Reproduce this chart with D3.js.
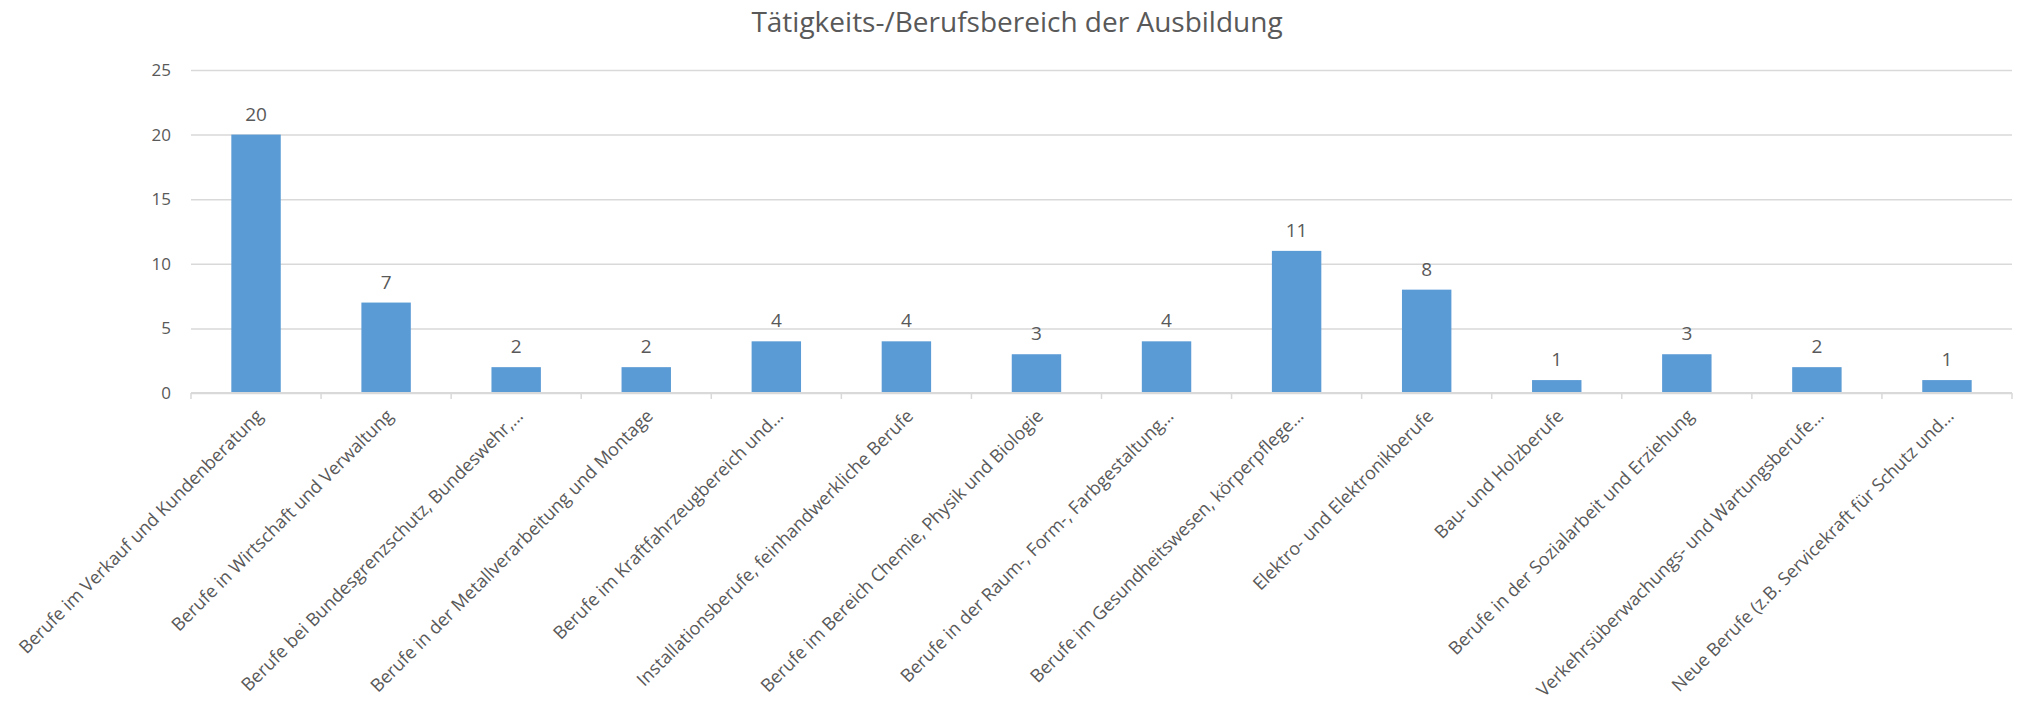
<!DOCTYPE html>
<html>
<head>
<meta charset="utf-8">
<script src="https://cdn.jsdelivr.net/npm/d3@7"></script>
<style>
	body { margin: 0; background: #fff; }
	text { font-family: 'Open Sans', Lato, sans-serif; fill: #595959; }
</style>
</head>
<body>
<div id="chart"></div>
<script>
const title = 'Tätigkeits-/Berufsbereich der Ausbildung'

const categories = [
	'Berufe im Verkauf und Kundenberatung',
	'Berufe in Wirtschaft und Verwaltung',
	'Berufe bei Bundesgrenzschutz, Bundeswehr,…',
	'Berufe in der Metallverarbeitung und Montage',
	'Berufe im Kraftfahrzeugbereich und…',
	'Installationsberufe, feinhandwerkliche Berufe',
	'Berufe im Bereich Chemie, Physik und Biologie',
	'Berufe in der Raum-, Form-, Farbgestaltung…',
	'Berufe im Gesundheitswesen, körperpflege…',
	'Elektro- und Elektronikberufe',
	'Bau- und Holzberufe',
	'Berufe in der Sozialarbeit und Erziehung',
	'Verkehrsüberwachungs- und Wartungsberufe…',
	'Neue Berufe (z.B. Servicekraft für Schutz und…',
]
const values = [20, 7, 2, 2, 4, 4, 3, 4, 11, 8, 1, 3, 2, 1]
const yTicks = [0, 5, 10, 15, 20, 25]

const fullWidth = 2018
const fullHeight = 706
const margin = {top: 70, right: 6, bottom: 313, left: 191}
const width = fullWidth - margin.left - margin.right
const height = fullHeight - margin.top - margin.bottom

const svg = d3
	.select('#chart')
	.append('svg')
	.attr('width', fullWidth)
	.attr('height', fullHeight)
	.style('display', 'block')

svg
	.append('text')
	.attr('x', 1017)
	.attr('y', 32)
	.attr('text-anchor', 'middle')
	.style('font-size', '28px')
	.text(title)

const g = svg
	.append('g')
	.attr('transform', `translate(${margin.left}, ${margin.top})`)

const x = d3.scaleBand().domain(categories).range([0, width]).paddingInner(0.62).paddingOuter(0.31)
const y = d3.scaleLinear().domain([0, 25]).range([height, 0])

// gridlines + y labels
const yAxis = g
	.append('g')
	.call(d3.axisLeft(y).tickValues(yTicks).tickSize(-width).tickPadding(20))
yAxis.select('.domain').remove()
yAxis.selectAll('.tick line').attr('stroke', '#d9d9d9').attr('stroke-width', 1.5)
yAxis.selectAll('.tick text').style('font-size', '17px').attr('fill', '#595959')

// bars
g.selectAll('.bar')
	.data(values)
	.enter()
	.append('rect')
	.attr('class', 'bar')
	.attr('x', (d, i) => x(categories[i]))
	.attr('y', (d) => y(d))
	.attr('width', x.bandwidth())
	.attr('height', (d) => height - y(d))
	.attr('fill', '#5b9bd5')

// data labels
g.selectAll('.val')
	.data(values)
	.enter()
	.append('text')
	.attr('class', 'val')
	.attr('x', (d, i) => x(categories[i]) + x.bandwidth() / 2)
	.attr('y', (d) => y(d) - 14)
	.attr('text-anchor', 'middle')
	.style('font-size', '19px')
	.attr('fill', '#404040')
	.text((d) => d)

// x axis line + ticks
const step = x.step()
const xAxis = g.append('g').attr('transform', `translate(0, ${height})`)
xAxis
	.append('line')
	.attr('x1', 0)
	.attr('x2', width)
	.attr('stroke', '#d9d9d9')
	.attr('stroke-width', 2)
xAxis
	.selectAll('.tk')
	.data(d3.range(categories.length + 1))
	.enter()
	.append('line')
	.attr('x1', (i) => i * step)
	.attr('x2', (i) => i * step)
	.attr('y1', 0)
	.attr('y2', 6)
	.attr('stroke', '#d9d9d9')
	.attr('stroke-width', 1.5)

xAxis
	.selectAll('.cat')
	.data(categories)
	.enter()
	.append('text')
	.attr('class', 'cat')
	.attr('text-anchor', 'end')
	.attr('transform', (d) => `translate(${x(d) + x.bandwidth() / 2 + 8}, 24) rotate(-45)`)
	.style('font-size', '18px')
	.text((d) => d)
</script>
</body>
</html>
